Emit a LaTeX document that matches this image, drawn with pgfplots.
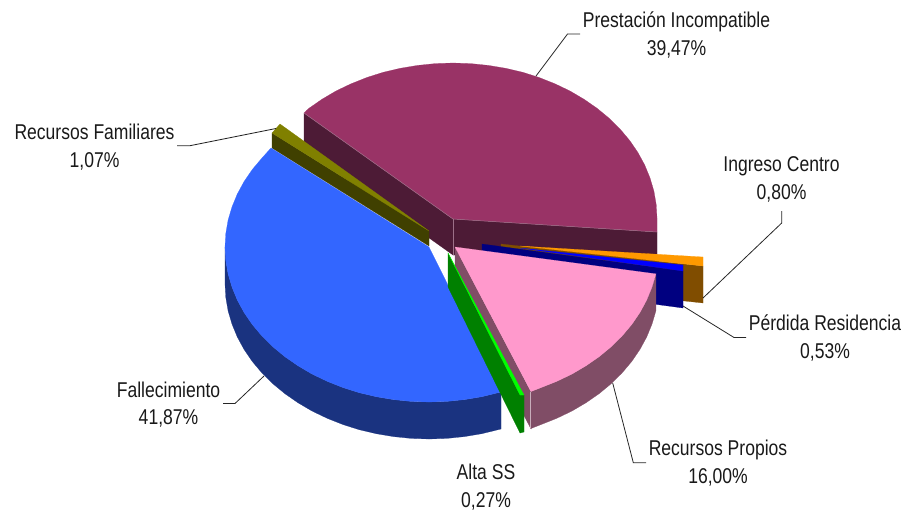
\documentclass[border=0pt]{standalone}
\usepackage{fontspec}
\setmainfont[FakeStretch=0.82]{Liberation Sans}
\usepackage{pgfplots}
\pgfplotsset{compat=1.18}
\definecolor{pTop}{HTML}{993366}
\definecolor{pSide}{HTML}{4D1B36}
\definecolor{pEdge}{HTML}{9C7088}
\definecolor{oTop}{HTML}{808000}
\definecolor{oSide}{HTML}{404000}
\definecolor{bTop}{HTML}{3366FF}
\definecolor{bSide}{HTML}{1A3380}
\definecolor{gTop}{HTML}{00FF00}
\definecolor{gSide}{HTML}{008000}
\definecolor{kTop}{HTML}{FF99CC}
\definecolor{kSide}{HTML}{804D66}
\definecolor{kEdge}{HTML}{C8AEBB}
\definecolor{nTop}{HTML}{0000FF}
\definecolor{nSide}{HTML}{000080}
\definecolor{rTop}{HTML}{FF9900}
\definecolor{rSide}{HTML}{804D00}
\pgfplotsset{
  face/.style={fill=#1, draw=#1, line width=0.2pt, mark=none, forget plot},
  leader/.style={draw=black!85, line width=0.8pt, mark=none, forget plot},
  edge/.style={draw=#1, line width=0.5pt, mark=none, forget plot},
}
\newcommand{\lab}[3]{\node[anchor=base, inner sep=0pt, text=black!90] at (axis cs:#1,#2) {\fontsize{21.4}{26}\selectfont #3};}
\begin{document}
\begin{tikzpicture}
\begin{axis}[
  scale only axis, width=907pt, height=512pt,
  xmin=0, xmax=907, ymin=0, ymax=512, y dir=reverse,
  hide axis, clip=false]
\path (axis cs:0,0) rectangle (axis cs:907,512);

% Prestacion Incompatible
\addplot[face=pSide] coordinates {(304,113)(453,219)(453,255)(304,149)} -- cycle;
\addplot[face=pSide] coordinates {(453,219)(657,232)(657,268)(453,255)} -- cycle;
\addplot[face=pTop] coordinates {(453,219)(657,232)(657,218)(656.2,204.5)(653.9,191.1)(650,177.9)(644.7,165)(637.9,152.5)(629.7,140.5)(620.1,129.1)(609.3,118.4)(597.2,108.4)(584.1,99.3)(570,91)(555,83.8)(539.2,77.5)(522.8,72.3)(505.8,68.3)(488.4,65.4)(470.8,63.6)(453,63)(435.2,63.6)(417.6,65.4)(400.2,68.3)(383.2,72.3)(366.8,77.5)(351,83.8)(336,91)(321.9,99.3)(308.8,108.4)(304,113)} -- cycle;
\addplot[edge=pEdge] coordinates {(304,113)(453,219)(657,232)};
\addplot[edge=pEdge] coordinates {(453,219)(453,255)};

% Ingreso Centro
\addplot[face=rSide] coordinates {(501,244)(703,266)(703,303)(501,281)} -- cycle;
\addplot[face=rTop] coordinates {(520,246)(703,257)(703,266)} -- cycle;

% Perdida Residencia
\addplot[face=nSide] coordinates {(482,244)(683,271)(683,308)(482,281)} -- cycle;
\addplot[face=nTop] coordinates {(520,248)(683,265)(683,271)} -- cycle;

% Recursos Familiares
\addplot[face=oSide] coordinates {(272,133)(429,231)(429,246)(272,148)} -- cycle;
\addplot[face=oTop] coordinates {(272,133)(280,124)(429,231)} -- cycle;

% Fallecimiento
\addplot[face=bSide] coordinates {(225,247)(225.8,260.5)(228.1,273.9)(232,287.1)(237.3,300)(244.1,312.5)(252.3,324.5)(261.9,335.9)(272.7,346.6)(284.8,356.6)(297.9,365.7)(312,374)(327,381.2)(342.8,387.5)(359.2,392.7)(376.2,396.7)(393.6,399.6)(411.2,401.4)(429,402)(446.8,401.4)(464.4,399.6)(481.8,396.7)(501,392)(501,429)(481.8,433.7)(464.4,436.6)(446.8,438.4)(429,439)(411.2,438.4)(393.6,436.6)(376.2,433.7)(359.2,429.7)(342.8,424.5)(327,418.2)(312,411)(297.9,402.7)(284.8,393.6)(272.7,383.6)(261.9,372.9)(252.3,361.5)(244.1,349.5)(237.3,337)(232,324.1)(228.1,310.9)(225.8,297.5)(225,284)} -- cycle;
\addplot[face=bTop] coordinates {(429,247)(271,148)(261.9,158.1)(252.3,169.5)(244.1,181.5)(237.3,194)(232,206.9)(228.1,220.1)(225.8,233.5)(225,247)(225.8,260.5)(228.1,273.9)(232,287.1)(237.3,300)(244.1,312.5)(252.3,324.5)(261.9,335.9)(272.7,346.6)(284.8,356.6)(297.9,365.7)(312,374)(327,381.2)(342.8,387.5)(359.2,392.7)(376.2,396.7)(393.6,399.6)(411.2,401.4)(429,402)(446.8,401.4)(464.4,399.6)(481.8,396.7)(501,392)} -- cycle;

% Recursos Propios
\addplot[face=kSide] coordinates {(455,247)(531,392)(531,429)(455,284)} -- cycle;
\addplot[face=kSide] coordinates {(655.9,273.9)(652,287.1)(646.7,300)(639.9,312.5)(631.7,324.5)(622.1,335.9)(611.3,346.6)(599.2,356.6)(586.1,365.7)(572,374)(557,381.2)(541.2,387.5)(531,391.5)(531,428.5)(541.2,424.5)(557,418.2)(572,411)(586.1,402.7)(599.2,393.6)(611.3,383.6)(622.1,372.9)(631.7,361.5)(639.9,349.5)(646.7,337)(652,324.1)(655.9,310.9)} -- cycle;
\addplot[face=kTop] coordinates {(455,247)(655.9,273.9)(652,287.1)(646.7,300)(639.9,312.5)(631.7,324.5)(622.1,335.9)(611.3,346.6)(599.2,356.6)(586.1,365.7)(572,374)(557,381.2)(541.2,387.5)(531,391.5)} -- cycle;
\addplot[edge=kEdge] coordinates {(530.5,392)(530.5,428)};

% Alta SS
\addplot[face=gSide] coordinates {(448,253)(520,395)(520,433)(448,287)} -- cycle;
\addplot[face=gSide] coordinates {(520,395)(524,395)(524,432)(520,433)} -- cycle;
\addplot[face=gTop] coordinates {(448,253)(524,395)(520,395)} -- cycle;

% Leader lines
\addplot[leader] coordinates {(536,76)(567.5,34)(580,34)};
\addplot[leader] coordinates {(703,298)(781.7,223)(781.7,211)};
\addplot[leader] coordinates {(683,306)(734,337.5)(746,337.5)};
\addplot[leader] coordinates {(612.7,383)(633.3,462.7)(646,462.7)};
\addplot[leader] coordinates {(223,403.5)(235,403.5)(264,376)};
\addplot[leader] coordinates {(177,145.7)(190,145.7)(276,128.5)};

% Labels
\lab{676.5}{27}{Prestación Incompatible}
\lab{676.5}{55}{39,47\%}
\lab{781.5}{171.7}{Ingreso Centro}
\lab{781.5}{199}{0,80\%}
\lab{825}{330}{Pérdida Residencia}
\lab{825}{358}{0,53\%}
\lab{718}{455}{Recursos Propios}
\lab{718}{483}{16,00\%}
\lab{486}{479}{Alta SS}
\lab{486}{507}{0,27\%}
\lab{168.5}{397}{Fallecimiento}
\lab{168.5}{424}{41,87\%}
\lab{94.5}{139}{Recursos Familiares}
\lab{94.5}{167}{1,07\%}
\end{axis}
\end{tikzpicture}
\end{document}
